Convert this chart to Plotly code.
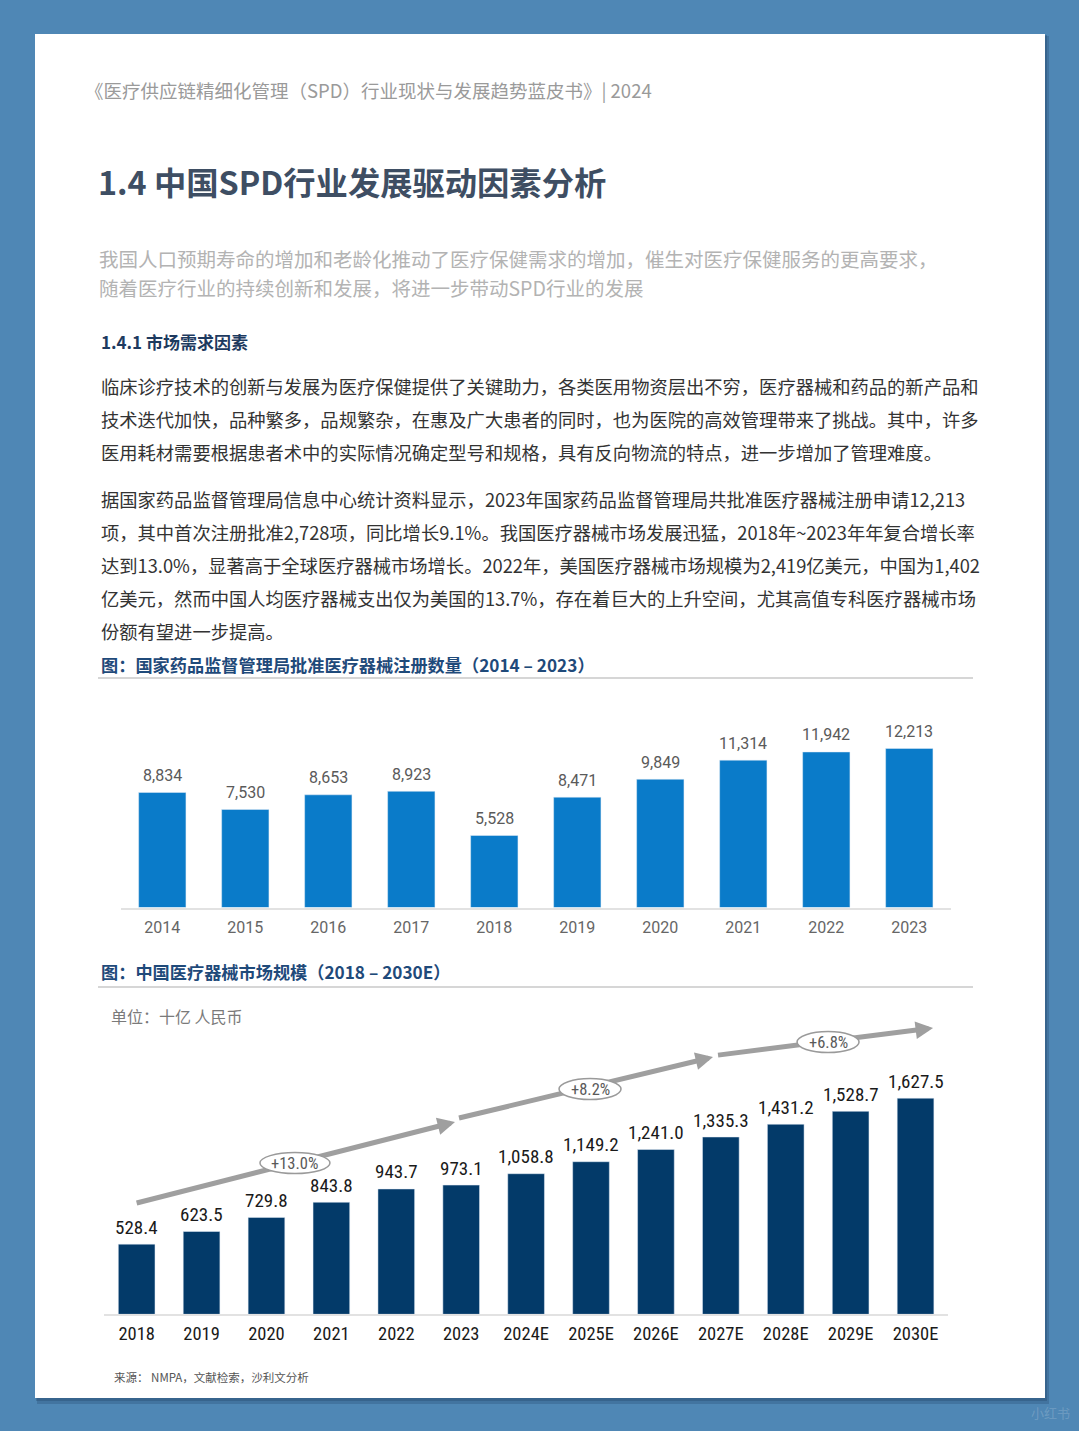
import plotly.graph_objects as go

# ---------------- data ----------------
reg_years = ['2014', '2015', '2016', '2017', '2018', '2019', '2020', '2021', '2022', '2023']
reg_counts = [8834, 7530, 8653, 8923, 5528, 8471, 9849, 11314, 11942, 12213]

mkt_years = ['2018', '2019', '2020', '2021', '2022', '2023', '2024E', '2025E', '2026E',
             '2027E', '2028E', '2029E', '2030E']
mkt_values = [528.4, 623.5, 729.8, 843.8, 943.7, 973.1, 1058.8, 1149.2, 1241.0,
              1335.3, 1431.2, 1528.7, 1627.5]

cagr_labels = ['+13.0%', '+8.2%', '+6.8%']

# ---------------- page helpers ----------------
W, H = 1079, 1431
def px(x):
    return x / W
def py(y):
    return 1 - y / H

CJK = "Noto Sans CJK SC"
NARROW = "Liberation Sans Narrow, Arial Narrow, Roboto Condensed, Liberation Sans"
BLUE1 = "#0A7BC9"
NAVY2 = "#033A69"

fig = go.Figure()

fig.add_trace(go.Bar(x=reg_years, y=reg_counts, marker_color=BLUE1, width=0.57,
                     xaxis='x', yaxis='y', hoverinfo='skip', cliponaxis=False))
fig.add_trace(go.Bar(x=mkt_years, y=mkt_values, marker_color=NAVY2, width=0.565,
                     xaxis='x2', yaxis='y2', hoverinfo='skip', cliponaxis=False))

annotations = []
shapes = []

# page background + shadow
shapes.append(dict(type='rect', xref='paper', yref='paper', x0=px(37), x1=px(1049),
                   y0=py(1404), y1=py(36), fillcolor='rgba(25,50,85,0.22)', line_width=0, layer='below'))
shapes.append(dict(type='rect', xref='paper', yref='paper', x0=px(36), x1=px(1047),
                   y0=py(1401), y1=py(35), fillcolor='rgba(25,50,85,0.25)', line_width=0, layer='below'))
shapes.append(dict(type='rect', xref='paper', yref='paper', x0=px(35), x1=px(1045),
                   y0=py(1398), y1=py(34), fillcolor='white', line_width=0, layer='below'))

def text(x, y, s, size, color, family=CJK, xanchor='left'):
    annotations.append(dict(x=px(x), y=py(y), xref='paper', yref='paper', text=s,
                            showarrow=False, xanchor=xanchor, yanchor='middle', align='left',
                            font=dict(size=size, color=color, family=family)))

text(83, 90, "《医疗供应链精细化管理（SPD）行业现状与发展趋势蓝皮书》| 2024", 18.5, "#9a9a9a")
text(96, 181, "<b>1.4 中国SPD行业发展驱动因素分析</b>", 32.3, "#3E4E63")
text(97, 259, "我国人口预期寿命的增加和老龄化推动了医疗保健需求的增加，催生对医疗保健服务的更高要求，", 19.5, "#b3b3b3")
text(97, 288, "随着医疗行业的持续创新和发展，将进一步带动SPD行业的发展", 19.5, "#b3b3b3")
text(99, 341, "<b>1.4.1 市场需求因素</b>", 17, "#1D3A5F")

para1 = ["临床诊疗技术的创新与发展为医疗保健提供了关键助力，各类医用物资层出不穷，医疗器械和药品的新产品和",
         "技术迭代加快，品种繁多，品规繁杂，在惠及广大患者的同时，也为医院的高效管理带来了挑战。其中，许多",
         "医用耗材需要根据患者术中的实际情况确定型号和规格，具有反向物流的特点，进一步增加了管理难度。"]
for i, s in enumerate(para1):
    text(99, 386 + 33 * i, s, 18.3, "#333333")
para2 = ["据国家药品监督管理局信息中心统计资料显示，2023年国家药品监督管理局共批准医疗器械注册申请12,213",
         "项，其中首次注册批准2,728项，同比增长9.1%。我国医疗器械市场发展迅猛，2018年~2023年年复合增长率",
         "达到13.0%，显著高于全球医疗器械市场增长。2022年，美国医疗器械市场规模为2,419亿美元，中国为1,402",
         "亿美元，然而中国人均医疗器械支出仅为美国的13.7%，存在着巨大的上升空间，尤其高值专科医疗器械市场",
         "份额有望进一步提高。"]
for i, s in enumerate(para2):
    text(99, 499 + 33 * i, s, 18.3, "#333333")

text(99, 664, "<b>图：国家药品监督管理局批准医疗器械注册数量（2014 – 2023）</b>", 17.2, "#1F4A7A")
shapes.append(dict(type='line', xref='paper', yref='paper', x0=px(98), x1=px(973), y0=py(678), y1=py(678),
                   line=dict(color='#d6d6d6', width=2), layer='below'))
text(99, 972, "<b>图：中国医疗器械市场规模（2018 – 2030E）</b>", 17.2, "#1F4A7A")
shapes.append(dict(type='line', xref='paper', yref='paper', x0=px(98), x1=px(973), y0=py(987), y1=py(987),
                   line=dict(color='#d6d6d6', width=2), layer='below'))
text(109, 1016, "单位：十亿 人民币", 16, "#7a7a7a")
text(112, 1377, "来源： NMPA，文献检索，沙利文分析", 11.5, "#555555")
text(1050, 1412, "小红书", 13, "rgba(255,255,255,0.18)", xanchor='center')

# value labels (category index positions on each axis)
for i, v in enumerate(reg_counts):
    annotations.append(dict(x=i, y=v, xref='x', yref='y', text=f"{v:,}", showarrow=False,
                            yanchor='middle', yshift=17,
                            font=dict(size=16, color='#5a5a5a', family='Roboto')))
for i, v in enumerate(mkt_values):
    annotations.append(dict(x=i, y=v, xref='x2', yref='y2', text=f"{v:,.1f}", showarrow=False,
                            yanchor='middle', yshift=17,
                            font=dict(size=19, color='#1a1a1a', family=NARROW)))

# CAGR arrows (decorative, positioned in chart-2 axis units)
segments = [((0.0, 838), (4.905, 1448)),
            ((4.966, 1478), (8.880, 1937)),
            ((8.957, 1952), (12.270, 2156))]
ellipses = [(2.439, 1139, 70), (6.985, 1696, 62), (10.652, 2050, 62)]
tails = [(-15.5, 3.9), (-15.6, 3.7), (-15.9, 2.0)]
ARW = '#9f9f9f'
for (s, e), (tx, ty) in zip(segments, tails):
    t = 0.96
    ex = s[0] + (e[0] - s[0]) * t
    ey = s[1] + (e[1] - s[1]) * t
    shapes.append(dict(type='line', xref='x2', yref='y2', x0=s[0], y0=s[1], x1=ex, y1=ey,
                       line=dict(color=ARW, width=5), layer='above'))
    annotations.append(dict(x=e[0], y=e[1], xref='x2', yref='y2', ax=tx, ay=ty, text='',
                            showarrow=True, arrowhead=2, arrowwidth=5, arrowsize=0.7,
                            arrowcolor=ARW, standoff=0))
for (cx, cy, w), lab in zip(ellipses, cagr_labels):
    shapes.append(dict(type='circle', xref='x2', yref='y2', xsizemode='pixel', ysizemode='pixel',
                       xanchor=cx, yanchor=cy, x0=-w / 2, x1=w / 2, y0=-10.5, y1=10.5,
                       fillcolor='white', line=dict(color='#9a9a9a', width=1.5), layer='above'))
    annotations.append(dict(x=cx, y=cy, xref='x2', yref='y2', text=lab, showarrow=False,
                            font=dict(size=16.5, color='#5a5a5a', family=NARROW)))

fig.update_layout(
    width=W, height=H, autosize=False,
    margin=dict(l=0, r=0, t=0, b=0, pad=0),
    paper_bgcolor='#4F87B5', plot_bgcolor='rgba(0,0,0,0)',
    showlegend=False, bargap=0.43,
    annotations=annotations, shapes=shapes,
    xaxis=dict(domain=[px(120.8), px(950.8)], range=[-0.5, 9.5], type='category',
               showgrid=False, zeroline=False, showline=True, linecolor='#e2e2e2', linewidth=2,
               ticks='', tickfont=dict(size=16, color='#666666', family='Roboto'),
               ticklabelstandoff=4, fixedrange=True),
    yaxis=dict(domain=[py(907.5), py(738.2)], range=[0, 13000], visible=False, fixedrange=True),
    xaxis2=dict(domain=[px(104.2), px(948.0)], range=[-0.5, 12.5], type='category',
                anchor='y2', showgrid=False, zeroline=False, showline=True, linecolor='#e2e2e2',
                linewidth=2, ticks='', tickfont=dict(size=18.5, color='#1a1a1a', family=NARROW),
                ticklabelstandoff=1, fixedrange=True),
    yaxis2=dict(domain=[py(1314.3), py(1008.9)], range=[0, 2300], anchor='x2', visible=False,
                fixedrange=True),
)

fig.write_html("out.html", config={'displayModeBar': False})
